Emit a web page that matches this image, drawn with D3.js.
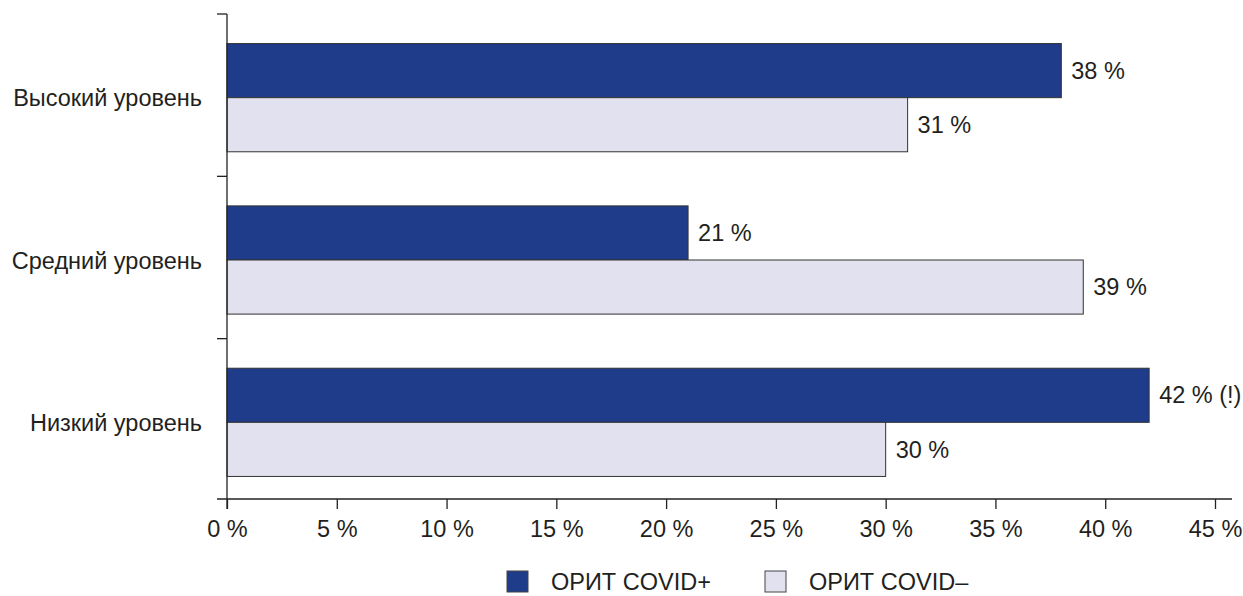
<!DOCTYPE html>
<html>
<head>
<meta charset="utf-8">
<script src="https://cdn.jsdelivr.net/npm/d3@7"></script>
<style>
  html, body { margin: 0; padding: 0; background: #fff; }
  svg { display: block; font-family: "Liberation Sans", Arial, sans-serif; }
</style>
</head>
<body>
<svg id="chart" width="1243" height="596"></svg>
<script>
// Categories (top to bottom) and the two series, in percent
const categories = ["Высокий уровень", "Средний уровень", "Низкий уровень"];
const seriesNames = ["ОРИТ COVID+", "ОРИТ COVID–"];
const covidPos = [38, 21, 42];
const covidNeg = [31, 39, 30];
const valueSuffix = ["", "", " (!)"];
const xTicks = [0, 5, 10, 15, 20, 25, 30, 35, 40, 45];

const colors = ["#1f3c8b", "#e1e1f0"];
const textColor = "#231f20";
const fontSize = 23.5;

const svg = d3.select("#chart");

const x = d3.scaleLinear().domain([0, 45]).range([227, 1215]);
const y = d3.scaleBand().domain(categories).range([14, 501]).padding(0);
const sub = d3.scaleBand().domain(seriesNames)
  .range([0, y.bandwidth()]).paddingInner(0).paddingOuter(0.5);

const rows = categories.map((c, i) => ({
  cat: c,
  values: [
    { s: seriesNames[0], v: covidPos[i], suffix: valueSuffix[i] },
    { s: seriesNames[1], v: covidNeg[i], suffix: "" }
  ]
}));

const axisY = 499;
const groupShift = 2.5;

// Bars
const groups = svg.append("g").selectAll("g").data(rows).join("g")
  .attr("transform", d => `translate(0,${y(d.cat) + groupShift})`);

groups.selectAll("rect").data(d => d.values).join("rect")
  .attr("x", x(0))
  .attr("y", d => sub(d.s))
  .attr("width", d => x(d.v) - x(0))
  .attr("height", sub.bandwidth())
  .attr("fill", (d, i) => colors[i])
  .attr("stroke", "#333")
  .attr("stroke-width", 1);

// Value labels
groups.selectAll("text.val").data(d => d.values).join("text")
  .attr("class", "val")
  .attr("x", d => x(d.v) + 10)
  .attr("y", d => sub(d.s) + sub.bandwidth() / 2)
  .attr("dy", "0.35em")
  .attr("font-size", fontSize)
  .attr("fill", textColor)
  .text(d => `${d.v} %${d.suffix}`);

// Category labels
svg.append("g").selectAll("text").data(categories).join("text")
  .attr("x", 202)
  .attr("y", d => y(d) + y.bandwidth() / 2 + 3)
  .attr("dy", "0.35em")
  .attr("text-anchor", "end")
  .attr("font-size", fontSize)
  .attr("fill", textColor)
  .text(d => d);

// Y axis line with ticks at category boundaries
const yAxis = svg.append("g").attr("stroke", "#222").attr("stroke-width", 1.3);
yAxis.append("line")
  .attr("x1", x(0)).attr("x2", x(0))
  .attr("y1", y.range()[0]).attr("y2", axisY + 10);
const boundaries = categories.map(c => y(c));
yAxis.selectAll("line.tk").data(boundaries).join("line")
  .attr("class", "tk")
  .attr("x1", x(0) - 10).attr("x2", x(0))
  .attr("y1", d => d).attr("y2", d => d);

// X axis
const xAxisG = svg.append("g")
  .attr("transform", `translate(0,${axisY})`)
  .call(d3.axisBottom(x).tickValues(xTicks).tickFormat(d => `${d} %`).tickSize(10).tickPadding(11));
xAxisG.select(".domain").remove();
xAxisG.append("line")
  .attr("x1", x(0) - 10).attr("x2", 1232)
  .attr("y1", 0).attr("y2", 0)
  .attr("stroke", "#222").attr("stroke-width", 1.3);
xAxisG.selectAll(".tick line").attr("stroke", "#222").attr("stroke-width", 1.3);
xAxisG.selectAll(".tick text")
  .attr("font-size", fontSize)
  .attr("font-family", "Liberation Sans, Arial, sans-serif")
  .attr("fill", textColor);

// Legend
const legendItems = [
  { name: seriesNames[0], color: colors[0], x: 507 },
  { name: seriesNames[1], color: colors[1], x: 765 }
];
const legend = svg.append("g").selectAll("g").data(legendItems).join("g")
  .attr("transform", d => `translate(${d.x},571)`);
legend.append("rect")
  .attr("width", 21).attr("height", 21)
  .attr("fill", d => d.color)
  .attr("stroke", "#444").attr("stroke-width", 1);
legend.append("text")
  .attr("x", 44).attr("y", 11)
  .attr("dy", "0.35em")
  .attr("font-size", fontSize)
  .attr("fill", textColor)
  .text(d => d.name);
</script>
</body>
</html>
